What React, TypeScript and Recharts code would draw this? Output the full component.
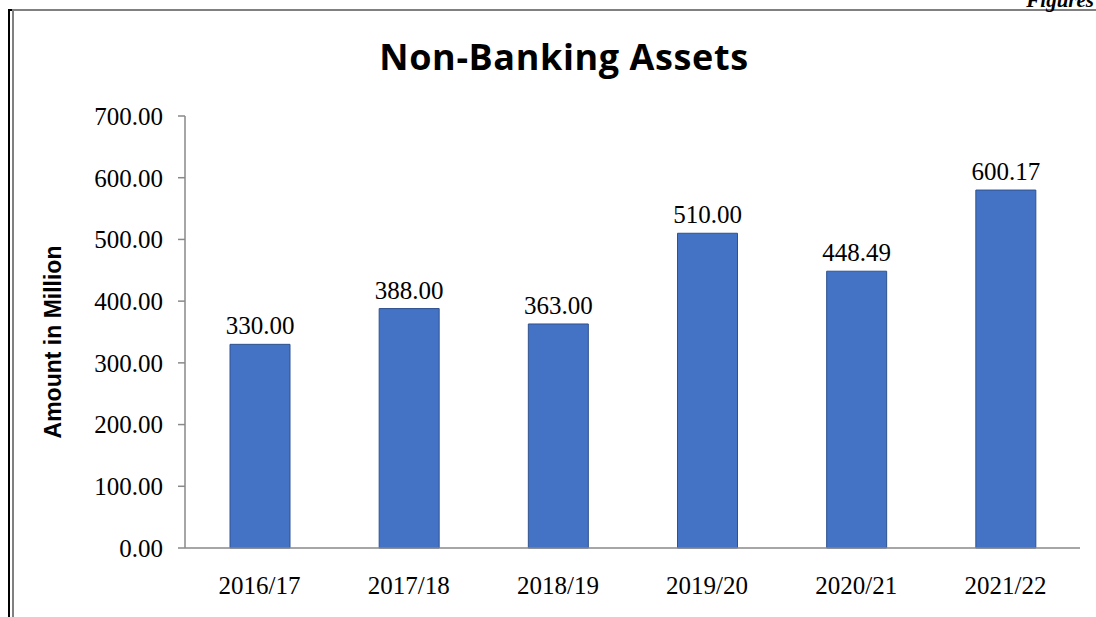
import { BarChart, Bar, XAxis, YAxis, LabelList } from 'recharts';

const years = ['2016/17', '2017/18', '2018/19', '2019/20', '2020/21', '2021/22'];
// bar heights as drawn in the picture
const amounts = [330, 388, 363, 510, 448.49, 580];
// printed value labels
const valueLabels = ['330.00', '388.00', '363.00', '510.00', '448.49', '600.17'];
const yTicks = [0, 100, 200, 300, 400, 500, 600, 700];

const data = years.map((year, i) => ({
  year,
  amount: amounts[i],
  label: valueLabels[i],
}));

const serif = '"Liberation Serif", "Times New Roman", serif';
const axisColor = '#898989';

export default function App() {
  return (
    <div
      style={{
        position: 'fixed',
        left: 0,
        top: 0,
        width: 1096,
        height: 617,
        background: '#fff',
        overflow: 'hidden',
      }}
    >
      {/* page frame lines */}
      <div style={{ position: 'absolute', left: 8, top: 9, width: 2, height: 620, background: '#000' }} />
      <div style={{ position: 'absolute', left: 8, top: 9, width: 5, height: 2, background: '#000' }} />
      <div style={{ position: 'absolute', left: 12, top: 10, width: 2, height: 620, background: '#808080' }} />
      <div style={{ position: 'absolute', left: 12, top: 9, width: 1090, height: 2, background: '#808080' }} />
      <div
        style={{
          position: 'absolute',
          right: 2,
          top: -12,
          fontFamily: serif,
          fontWeight: 'bold',
          fontStyle: 'italic',
          fontSize: 21,
        }}
      >
        Figures
      </div>
      <div
        style={{
          position: 'absolute',
          left: 0,
          width: 1128,
          top: 32,
          textAlign: 'center',
          fontFamily: '"Open Sans", Lato, sans-serif',
          fontWeight: 'bold',
          fontSize: 36,
          letterSpacing: 0.6,
          color: '#000',
        }}
      >
        Non-Banking Assets
      </div>
      <div
        style={{
          position: 'absolute',
          left: 53,
          top: 342,
          transform: 'translate(-50%, -50%) rotate(-90deg)',
          whiteSpace: 'nowrap',
          fontFamily: '"Liberation Sans", Arial, sans-serif',
          fontWeight: 'bold',
          fontSize: 23,
          color: '#000',
        }}
      >
        Amount in Million
      </div>
      <div style={{ position: 'absolute', left: 0, top: 0 }}>
        <BarChart
          width={1096}
          height={617}
          data={data}
          margin={{ top: 116, right: 16, left: 0, bottom: 39 }}
        >
          <XAxis
            dataKey="year"
            height={30}
            tickSize={0}
            tickMargin={28}
            axisLine={{ stroke: axisColor, strokeWidth: 1.5 }}
            tick={{ fontFamily: serif, fontSize: 25, fill: '#000' }}
          />
          <YAxis
            width={185}
            domain={[0, 700]}
            ticks={yTicks}
            interval={0}
            tickSize={7}
            tickMargin={15}
            tickFormatter={(v: number) => v.toFixed(2)}
            axisLine={{ stroke: axisColor, strokeWidth: 1.5 }}
            tickLine={{ stroke: axisColor, strokeWidth: 1.5 }}
            tick={{ fontFamily: serif, fontSize: 25, fill: '#000' }}
          />
          <Bar
            dataKey="amount"
            barSize={60}
            fill="#4472C4"
            stroke="#2F528F"
            strokeWidth={1}
            isAnimationActive={false}
          >
            <LabelList
              dataKey="label"
              position="top"
              offset={10}
              style={{ fontFamily: serif, fontSize: 25, fill: '#000' }}
            />
          </Bar>
        </BarChart>
      </div>
    </div>
  );
}
